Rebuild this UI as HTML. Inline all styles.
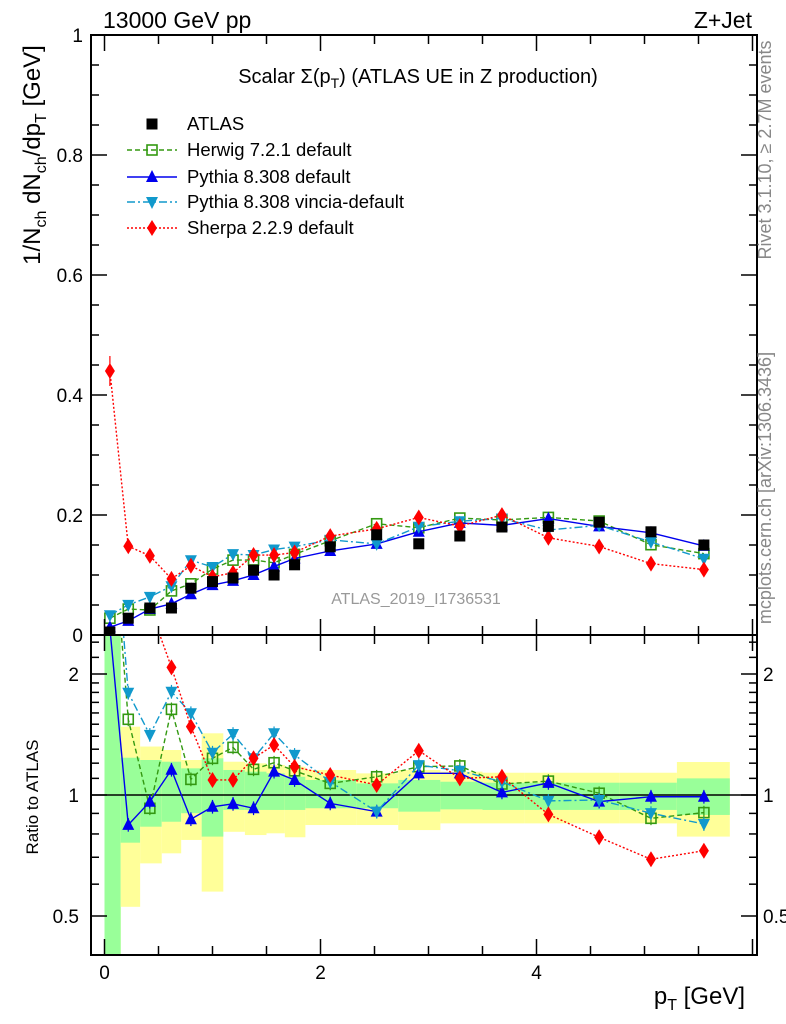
<!DOCTYPE html>
<html><head><meta charset="utf-8">
<style>
html,body{margin:0;padding:0;background:#fff;}
svg{display:block;font-family:"Liberation Sans",sans-serif;}
</style></head>
<body>
<svg id="chart" width="786" height="1024" viewBox="0 0 786 1024" xmlns="http://www.w3.org/2000/svg">
<defs>
<clipPath id="clipMain"><rect x="91" y="35" width="666" height="600"/></clipPath>
<clipPath id="clipRatio"><rect x="91" y="635" width="666" height="320"/></clipPath>
</defs>
<g id="bands" clip-path="url(#clipRatio)"></g>
<g id="ratioMarks" clip-path="url(#clipRatio)"></g>
<g id="mainMarks" clip-path="url(#clipMain)"></g>
<g id="axes"></g>
<text x="103" y="28" font-size="23">13000 GeV pp</text>
<text x="752" y="28" font-size="23" text-anchor="end">Z+Jet</text>
<text x="418" y="83" font-size="20" text-anchor="middle">Scalar Σ(p<tspan font-size="14" dy="5">T</tspan><tspan dy="-5">) (ATLAS UE in Z production)</tspan></text>
<text x="416" y="604" font-size="16" fill="#999" text-anchor="middle">ATLAS_2019_I1736531</text>
<text transform="translate(771,150) rotate(-90)" font-size="18" fill="#888" text-anchor="middle">Rivet 3.1.10, ≥ 2.7M events</text>
<text transform="translate(771,488) rotate(-90)" font-size="18" fill="#888" text-anchor="middle">mcplots.cern.ch [arXiv:1306.3436]</text>
<text transform="translate(40,155) rotate(-90)" font-size="24" text-anchor="middle">1/N<tspan font-size="16" dy="6">ch</tspan><tspan dy="-6"> dN</tspan><tspan font-size="16" dy="6">ch</tspan><tspan dy="-6">/dp</tspan><tspan font-size="16" dy="6">T</tspan><tspan dy="-6"> [GeV]</tspan></text>
<text transform="translate(38,797) rotate(-90)" font-size="17" text-anchor="middle">Ratio to ATLAS</text>
<text x="745" y="1004" font-size="24" text-anchor="end">p<tspan font-size="16" dy="6">T</tspan><tspan dy="-6"> [GeV]</tspan></text>
<g id="legend"></g>
</svg>
<script>
const binEdges = [0,0.15,0.33,0.53,0.71,0.9,1.1,1.3,1.5,1.67,1.86,2.33,2.72,3.11,3.5,3.89,4.31,4.77,5.3,5.79];
const binCenters = [0.05,0.22,0.42,0.62,0.8,1.0,1.19,1.38,1.57,1.76,2.09,2.52,2.91,3.29,3.68,4.11,4.58,5.06,5.55];
const atlasValues = [0.005,0.028,0.045,0.045,0.078,0.089,0.095,0.108,0.100,0.117,0.147,0.167,0.152,0.165,0.180,0.181,0.188,0.172,0.150];
const herwigValues = [0.028,0.0432,0.0417,0.0735,0.0853,0.1098,0.1248,0.1251,0.1203,0.1344,0.1571,0.1854,0.1788,0.1949,0.1917,0.196,0.1899,0.1505,0.1356];
const pythiaValues = [0.013,0.0236,0.0433,0.052,0.0679,0.0832,0.0903,0.1001,0.1143,0.1275,0.1401,0.1518,0.1721,0.1868,0.1827,0.194,0.181,0.1703,0.1485];
const vinciaValues = [0.033,0.0503,0.0635,0.0813,0.1246,0.1134,0.1347,0.1333,0.1424,0.1472,0.1586,0.1518,0.1804,0.1896,0.1942,0.175,0.1827,0.155,0.127];
const sherpaValues = [0.44,0.148,0.132,0.0935,0.1154,0.097,0.1036,0.1333,0.1332,0.1376,0.1648,0.1769,0.1959,0.1815,0.1998,0.162,0.1476,0.119,0.109];
const bandYellowUp = [3,1.479,1.32,1.294,1.222,1.424,1.21,1.199,1.188,1.176,1.154,1.132,1.154,1.143,1.136,1.136,1.136,1.136,1.208];
const bandYellowLo = [0.3,0.527,0.676,0.716,0.773,0.575,0.81,0.795,0.803,0.785,0.842,0.842,0.818,0.85,0.85,0.85,0.85,0.85,0.788];
const bandGreenUp = [3,1.238,1.222,1.21,1.165,1.234,1.154,1.143,1.132,1.11,1.09,1.069,1.09,1.079,1.073,1.073,1.073,1.073,1.1];
const bandGreenLo = [0.3,0.761,0.834,0.858,0.901,0.788,0.918,0.918,0.918,0.918,0.927,0.927,0.909,0.921,0.918,0.918,0.918,0.918,0.892];
const mainTicks = ["0","0.2","0.4","0.6","0.8","1"];
const mainTickVals = [0,0.2,0.4,0.6,0.8,1];
const ratioTickVals = [0.5,1,2];
const xTickVals = [0,2,4];

const NS="http://www.w3.org/2000/svg";
const xs = v => 104.5 + v*108;
const ym = v => 635 - v*600;
const yr = r => 795 - Math.log2(r)*121;
function mk(tag, attrs, parent){const e=document.createElementNS(NS,tag);for(const k in attrs)e.setAttribute(k,attrs[k]);parent.appendChild(e);return e;}
const axes=document.getElementById('axes');
const bands=document.getElementById('bands');
const mainG=document.getElementById('mainMarks');
const ratioG=document.getElementById('ratioMarks');
const legend=document.getElementById('legend');

for(let i=0;i<binCenters.length;i++){
  const x0=xs(binEdges[i]), x1=xs(binEdges[i+1]);
  const y=mk('rect',{x:x0,y:yr(bandYellowUp[i]),width:x1-x0,height:yr(bandYellowLo[i])-yr(bandYellowUp[i]),fill:'#ffff99'},bands);
  
  
  const g=mk('rect',{x:x0,y:yr(bandGreenUp[i]),width:x1-x0,height:yr(bandGreenLo[i])-yr(bandGreenUp[i]),fill:'#99ff99'},bands);
  
  
}
const one=mk('line',{x1:91,x2:757,y1:yr(1),y2:yr(1),stroke:'#000','stroke-width':1.5},bands);



function marker(type,x,y,color,parent,s){
  s=s||6;let e;
  if(type==='sq') e=mk('rect',{x:x-s,y:y-s,width:2*s,height:2*s,fill:'#000'},parent);
  else if(type==='osq') e=mk('rect',{x:x-s+1,y:y-s+1,width:2*s-2,height:2*s-2,fill:'none',stroke:color,'stroke-width':1.6},parent);
  else if(type==='up') e=mk('polygon',{points:`${x},${y-s-1} ${x-s},${y+s-1} ${x+s},${y+s-1}`,fill:color},parent);
  else if(type==='dn') e=mk('polygon',{points:`${x},${y+s+1} ${x-s},${y-s+1} ${x+s},${y-s+1}`,fill:color},parent);
  else e=mk('polygon',{points:`${x},${y-s-2} ${x-s+1},${y} ${x},${y+s+2} ${x+s-1},${y}`,fill:color},parent);
  return e;
}
const series=[
  {name:'herwig',vals:herwigValues,color:'#339911',dash:'5,3',mk:'osq'},
  {name:'pythia',vals:pythiaValues,color:'#0000ee',dash:'',mk:'up'},
  {name:'vincia',vals:vinciaValues,color:'#1199cc',dash:'8,3,2,3',mk:'dn'},
  {name:'sherpa',vals:sherpaValues,color:'#ff0000',dash:'2,2',mk:'dia'}
];
series.forEach(s=>{
  const ptsM=s.vals.map((v,i)=>xs(binCenters[i])+','+ym(v)).join(' ');
  const lm=mk('polyline',{points:ptsM,fill:'none',stroke:s.color,'stroke-width':1.4,'stroke-dasharray':s.dash},mainG);
  
  
  const ptsR=s.vals.map((v,i)=>xs(binCenters[i])+','+yr(v/atlasValues[i])).join(' ');
  const lr=mk('polyline',{points:ptsR,fill:'none',stroke:s.color,'stroke-width':1.4,'stroke-dasharray':s.dash},ratioG);
  
  
  s.vals.forEach((v,i)=>{
    const x=xs(binCenters[i]);
    const r=v/atlasValues[i];
    const eb=mk('line',{x1:x,x2:x,y1:yr(r*1.04),y2:yr(r/1.04),stroke:s.color,'stroke-width':1.2},ratioG);
    
    
    const m=marker(s.mk,x,yr(r),s.color,ratioG);
    
    
    const mm=marker(s.mk,x,ym(v),s.color,mainG);
    
    
  });
});
const se=mk('line',{x1:xs(binCenters[0]),x2:xs(binCenters[0]),y1:ym(sherpaValues[0]+0.025),y2:ym(sherpaValues[0]-0.025),stroke:'#ff0000','stroke-width':1.2},mainG);


atlasValues.forEach((v,i)=>{
  const m=marker('sq',xs(binCenters[i]),ym(v),'#000',mainG,5.5);
  
  
});

[[91,35,666,600],[91,635,666,320]].forEach(f=>{
  const r=mk('rect',{x:f[0],y:f[1],width:f[2],height:f[3],fill:'none',stroke:'#000','stroke-width':2},axes);
  
  
});
function tick(x1,y1,x2,y2){mk('line',{x1,y1,x2,y2,stroke:'#000','stroke-width':1.5},axes);}
for(let v=0;v<=1.0001;v+=0.05){
  const big=Math.abs(v/0.2-Math.round(v/0.2))<1e-6;const L=big?16:8;
  tick(91,ym(v),91+L,ym(v));tick(757,ym(v),757-L,ym(v));
}
mainTickVals.forEach((v,i)=>{
  const t=mk('text',{x:83,y:ym(v)+7,'font-size':19,'text-anchor':'end'},axes);t.textContent=mainTicks[i];
  
  
});
[0.4,0.6,0.7,0.8,0.9,1.1,1.2,1.3,1.4,1.5,1.6,1.7,1.8,1.9,2.2,2.4].forEach(r=>{tick(91,yr(r),99,yr(r));tick(757,yr(r),749,yr(r));});
ratioTickVals.forEach(r=>{
  tick(91,yr(r),107,yr(r));tick(757,yr(r),741,yr(r));
  const lab=String(r);
  const t=mk('text',{x:79,y:yr(r)+7,'font-size':19,'text-anchor':'end'},axes);t.textContent=lab;
  
  
  const t2=mk('text',{x:763,y:yr(r)+7,'font-size':19},axes);t2.textContent=lab;
  
  
});
for(let v=0;v<=6;v+=0.5){
  const X=xs(v);if(X>757)break;const big=(v%2===0);const L=big?16:9;
  tick(X,635,X,635-L);tick(X,635,X,635+L);tick(X,955,X,955-L);tick(X,35,X,35+L);
}
xTickVals.forEach(v=>{
  const t=mk('text',{x:xs(v),y:979,'font-size':19,'text-anchor':'middle'},axes);t.textContent=String(v);
  
  
});
const legNames=['ATLAS','Herwig 7.2.1 default','Pythia 8.308 default','Pythia 8.308 vincia-default','Sherpa 2.2.9 default'];
const legY=[124,150,177,202,228];
legNames.forEach((n,i)=>{
  const g=mk('g',{},legend);
  
  
  if(i===0){marker('sq',152,legY[i],'#000',g,5.5);}
  else{const s=series[i-1];
    mk('line',{x1:127,x2:177,y1:legY[i],y2:legY[i],stroke:s.color,'stroke-width':1.4,'stroke-dasharray':s.dash},g);
    marker(s.mk,152,legY[i],s.color,g);}
  const t=mk('text',{x:187,y:legY[i]+6,'font-size':18.5},g);t.textContent=n;
});
</script>
</body></html>
